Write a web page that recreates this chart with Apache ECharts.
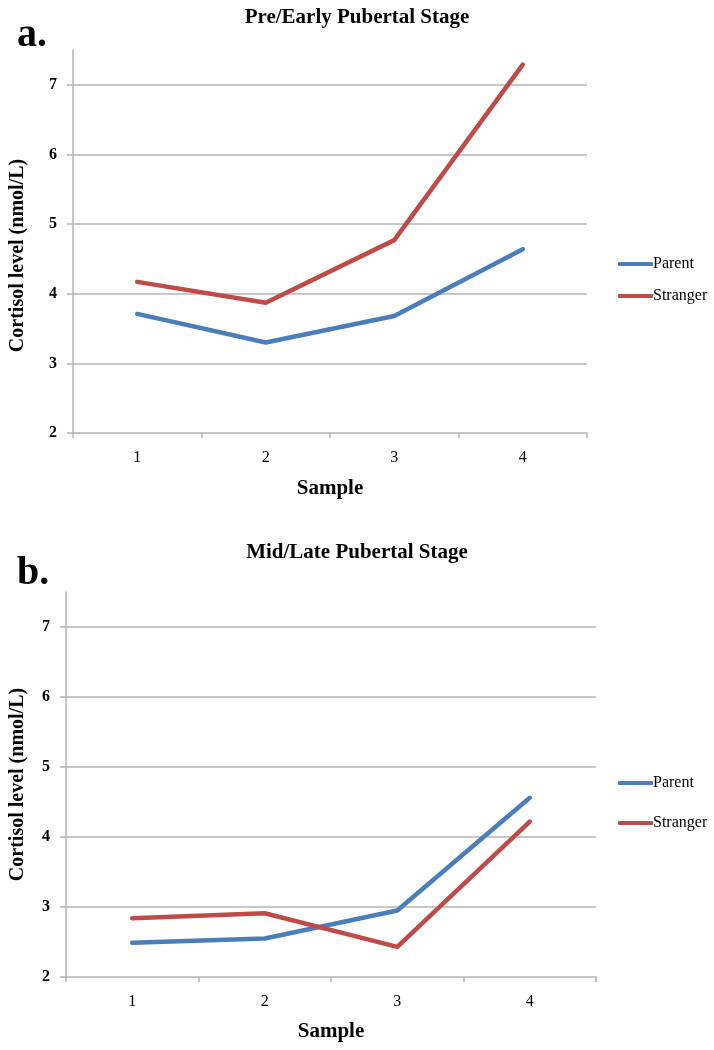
<!DOCTYPE html>
<html>
<head>
<meta charset="utf-8">
<script src="https://cdn.jsdelivr.net/npm/echarts@6/dist/echarts.min.js"></script>
<style>
html,body{margin:0;padding:0;background:#fff;}
#chart{width:714px;height:1050px;}
</style>
</head>
<body>
<div id="chart"></div>
<script>
// ---- data ----
const samples = ['1', '2', '3', '4'];
const titleA = 'Pre/Early Pubertal Stage';
const titleB = 'Mid/Late Pubertal Stage';
const parentA = [3.71, 3.30, 3.68, 4.64];
const strangerA = [4.17, 3.87, 4.77, 7.29];
const parentB = [2.49, 2.55, 2.95, 4.56];
const strangerB = [2.84, 2.91, 2.43, 4.22];
const seriesNames = ['Parent', 'Stranger'];
const yAxisName = 'Cortisol level (nmol/L)';
const xAxisName = 'Sample';

const FONT = '"Liberation Serif", "Times New Roman", serif';
const GRID_C = '#b4b4b4';
const BLUE = '#4a7ebb';
const RED = '#be4b48';

function xAxis(gridIndex, gap) {
  return {
    type: 'category', gridIndex: gridIndex, data: samples, boundaryGap: true,
    name: xAxisName, nameLocation: 'middle', nameGap: gap,
    nameTextStyle: {fontFamily: FONT, fontWeight: 'bold', fontSize: 21, color: '#000'},
    axisLine: {lineStyle: {color: GRID_C, width: 1.5}},
    axisTick: {show: true, length: 5, lineStyle: {color: GRID_C, width: 1.5}},
    axisLabel: {fontFamily: FONT, fontSize: 16, color: '#000', margin: 17},
    splitLine: {show: false}
  };
}
function yAxis(gridIndex, gap, pad) {
  return {
    type: 'value', gridIndex: gridIndex, min: 2, max: 7.5, interval: 1,
    name: yAxisName, nameLocation: 'middle', nameGap: gap,
    nameTextStyle: {fontFamily: FONT, fontWeight: 'bold', fontSize: 20, color: '#000', padding: pad},
    axisLine: {show: true, lineStyle: {color: GRID_C, width: 1.5}},
    axisTick: {show: true, length: 6, lineStyle: {color: GRID_C, width: 1.5}},
    axisLabel: {fontFamily: FONT, fontWeight: 'bold', fontSize: 16, color: '#000', margin: 16, showMaxLabel: false},
    splitLine: {show: true, showMinLine: false, showMaxLine: false, lineStyle: {color: GRID_C, width: 1.5}}
  };
}
function lineSeries(name, data, color, idx) {
  return {
    type: 'line', name: name, data: data, xAxisIndex: idx, yAxisIndex: idx,
    symbol: 'none', smooth: false,
    lineStyle: {color: color, width: 4.5, cap: 'round', join: 'round'},
    itemStyle: {color: color}
  };
}
function legend(top, gap) {
  return {
    data: seriesNames, orient: 'vertical', left: 613, top: top, itemGap: gap,
    icon: 'roundRect', itemWidth: 35, itemHeight: 4,
    textStyle: {fontFamily: FONT, fontSize: 16, color: '#000', padding: [0, 0, 0, -5], lineHeight: 18},
    selectedMode: false
  };
}

const chart = echarts.init(document.getElementById('chart'), null, {renderer: 'canvas'});
chart.setOption({
  backgroundColor: '#fff',
  animation: false,
  title: [
    {text: titleA, left: 'center', top: 2, textStyle: {fontFamily: FONT, fontWeight: 'bold', fontSize: 21, color: '#000'}},
    {text: titleB, left: 'center', top: 537, textStyle: {fontFamily: FONT, fontWeight: 'bold', fontSize: 21, color: '#000'}}
  ],
  graphic: [
    {type: 'text', left: 17, top: 16, style: {text: 'a.', font: 'bold 40px ' + FONT, fill: '#000'}},
    {type: 'text', left: 17, top: 554, style: {text: 'b.', font: 'bold 40px ' + FONT, fill: '#000'}}
  ],
  legend: [legend(250, 14), legend(769, 22)],
  grid: [
    {left: 73, right: 127, top: 50, bottom: 617},
    {left: 66, right: 118, top: 592, bottom: 73}
  ],
  xAxis: [xAxis(0, 45), xAxis(1, 44)],
  yAxis: [yAxis(0, 45, [0, 28, 0, 0]), yAxis(1, 38, [0, 0, 0, 0])],
  series: [
    lineSeries(seriesNames[0], parentA, BLUE, 0),
    lineSeries(seriesNames[1], strangerA, RED, 0),
    lineSeries(seriesNames[0], parentB, BLUE, 1),
    lineSeries(seriesNames[1], strangerB, RED, 1)
  ]
});
</script>
</body>
</html>
